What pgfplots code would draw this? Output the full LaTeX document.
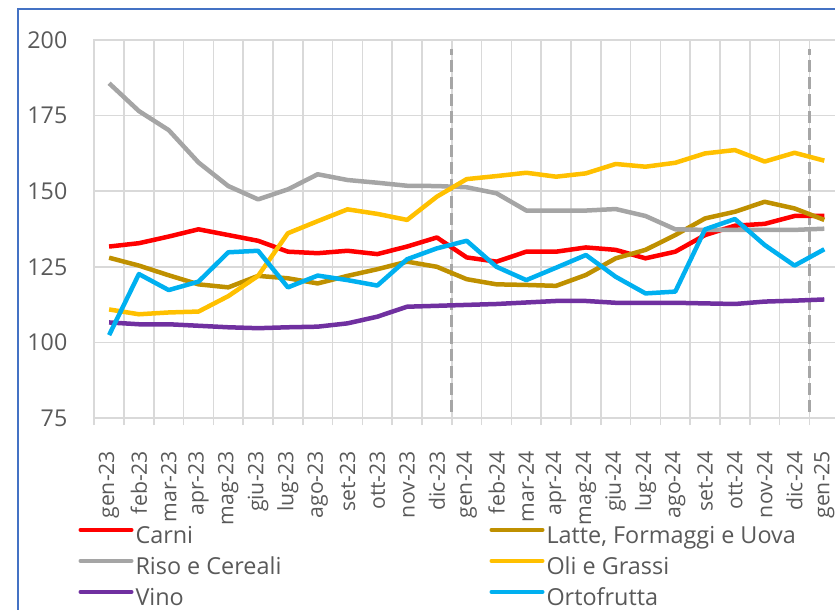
\documentclass[border=0pt]{standalone}
\usepackage{pgfplots}
\pgfplotsset{compat=1.18}
\usepackage{pgfplotstable}
\usepackage{fontspec}
\setmainfont{Open Sans}
\definecolor{cCarni}{HTML}{FF0000}
\definecolor{cLatte}{HTML}{BF9000}
\definecolor{cRiso}{HTML}{A5A5A5}
\definecolor{cOli}{HTML}{FFC000}
\definecolor{cVino}{HTML}{7030A0}
\definecolor{cOrto}{HTML}{00B0F0}
\definecolor{gridc}{HTML}{D9D9D9}
\definecolor{textc}{HTML}{595959}
\definecolor{dashc}{HTML}{A6A6A6}
\definecolor{borderc}{HTML}{4472C4}
\pgfplotstableread{
x carni latte riso oli vino orto
0 131.7 128.0 185.7 110.9 106.6 102.4
1 132.8 125.4 176.5 109.3 106.0 122.6
2 135.0 122.2 170.2 109.9 106.0 117.3
3 137.4 119.2 159.5 110.2 105.5 120.1
4 135.5 118.2 151.7 115.3 105.0 129.8
5 133.6 122.0 147.3 122.0 104.7 130.3
6 130.0 121.2 150.6 136.1 105.0 118.2
7 129.5 119.5 155.6 140.1 105.2 122.1
8 130.3 122.0 153.7 144.0 106.3 120.6
9 129.2 124.2 152.8 142.5 108.5 118.8
10 131.7 126.7 151.8 140.5 111.8 127.5
11 134.7 125.0 151.7 148.2 112.1 131.1
12 128.1 120.9 151.3 154.0 112.4 133.6
13 126.7 119.2 149.3 155.0 112.7 125.0
14 130.0 119.0 143.6 156.1 113.2 120.6
15 130.0 118.7 143.6 154.8 113.7 124.7
16 131.4 122.3 143.6 155.9 113.7 128.9
17 130.6 127.8 144.1 159.0 113.1 121.7
18 127.8 130.6 141.8 158.1 113.1 116.2
19 130.0 135.5 137.4 159.4 113.1 116.8
20 135.5 141.0 137.2 162.5 112.9 137.4
21 138.6 143.2 137.2 163.6 112.7 140.8
22 139.2 146.5 137.2 159.8 113.5 132.2
23 141.8 144.3 137.2 162.7 113.8 125.4
24 141.8 140.5 137.6 160.1 114.2 130.8
}\datatable
\begin{document}
\begin{tikzpicture}
\draw[color=borderc, line width=1pt] (-38.1pt,-140pt) rectangle (420pt,204.5pt);
\begin{axis}[
  scale only axis, width=372.5pt, height=189pt,
  xmin=-0.5, xmax=24.5, ymin=75, ymax=200,
  xtick={0,...,24},
  xticklabels={gen-23,feb-23,mar-23,apr-23,mag-23,giu-23,lug-23,ago-23,set-23,ott-23,nov-23,dic-23,gen-24,feb-24,mar-24,apr-24,mag-24,giu-24,lug-24,ago-24,set-24,ott-24,nov-24,dic-24,gen-25},
  major x tick style={draw=none},
  minor xtick={-0.5,0.5,...,24.5},
  xminorgrids,
  minor x grid style={color=gridc, line width=0.75pt},
  minor x tick style={color=gridc, line width=0.75pt},
  minor tick length=3.5pt,
  tick align=outside,
  xtick pos=left,
  ytick={75,100,...,200},
  ymajorgrids,
  major y grid style={color=gridc, line width=0.75pt},
  ytick style={draw=none},
  axis line style={color=gridc, line width=0.75pt},
  /pgf/number format/assume math mode=true,
  tick label style={color=textc},
  yticklabel style={font=\fontsize{11.6}{13}\selectfont, anchor=east, inner sep=0pt, xshift=-9pt},
  xticklabel style={font=\fontsize{10.6}{12}\selectfont, yshift=-12pt, rotate=90, anchor=east, inner sep=0pt},
  legend columns=2,
  legend cell align=left,
  legend style={draw=none, fill=none, at={(-0.0216,-0.283)}, anchor=north west,
    inner sep=0pt, row sep=3.5pt, column sep=0pt,
    font=\fontsize{11.7}{13}\selectfont, text=textc,
    nodes={inner xsep=1pt, inner ysep=0.5pt, text height=8.5pt, text depth=2.5pt}},
  legend image code/.code={\draw[#1, line width=2pt, line cap=round] (1pt,3.8pt) -- (26.5pt,3.8pt);},
  every axis plot/.append style={line width=2.25pt, line join=round},
]
\addplot[forget plot, color=dashc, line width=1.5pt, dash pattern=on 6pt off 2.5pt] coordinates {(11.5,77) (11.5,197)};
\addplot[forget plot, color=dashc, line width=1.5pt, dash pattern=on 6pt off 2.5pt] coordinates {(23.5,77) (23.5,197)};
\addplot[color=cCarni] table[x=x, y=carni] {\datatable};
\addlegendentry{\makebox[176pt][l]{Carni}}
\addplot[color=cLatte] table[x=x, y=latte] {\datatable};
\addlegendentry{Latte, Formaggi e Uova}
\addplot[color=cRiso] table[x=x, y=riso] {\datatable};
\addlegendentry{\makebox[176pt][l]{Riso e Cereali}}
\addplot[color=cOli] table[x=x, y=oli] {\datatable};
\addlegendentry{Oli e Grassi}
\addplot[color=cVino] table[x=x, y=vino] {\datatable};
\addlegendentry{\makebox[176pt][l]{Vino}}
\addplot[color=cOrto] table[x=x, y=orto] {\datatable};
\addlegendentry{Ortofrutta}
\end{axis}
\pgfresetboundingbox
\useasboundingbox (-47.1pt,-96pt) rectangle (370.4pt,209pt);
\end{tikzpicture}
\end{document}
